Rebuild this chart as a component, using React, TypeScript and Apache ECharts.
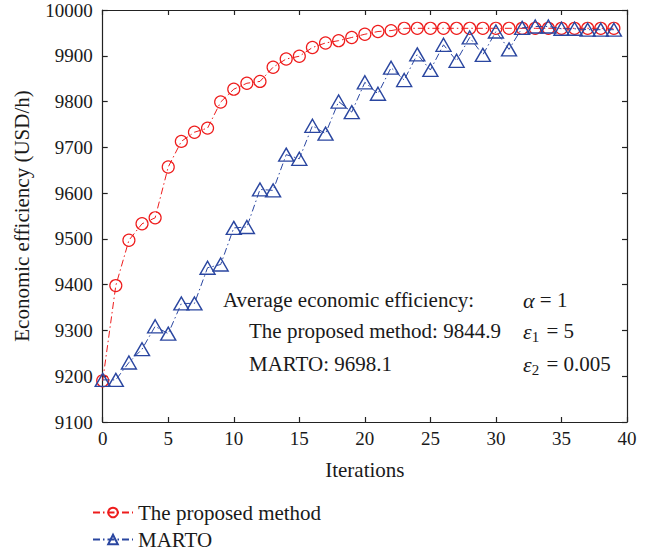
import React, { useEffect, useRef } from "react";
import * as echarts from "echarts";

const iterations: number[] = Array.from({ length: 40 }, (_, i) => i);
const proposed: number[] = [
  9190, 9398, 9497, 9533, 9546, 9657, 9713, 9733, 9742, 9799,
  9827, 9840, 9844, 9875, 9893, 9899, 9918, 9928, 9933, 9940,
  9947, 9953, 9955, 9960, 9960, 9960, 9960, 9960, 9960, 9960,
  9960, 9960, 9960, 9960, 9960, 9960, 9960, 9960, 9960, 9960,
];
const marto: number[] = [
  9192, 9192, 9230, 9259, 9309, 9293, 9359, 9359, 9437, 9444,
  9524, 9526, 9608, 9606, 9684, 9675, 9747, 9730, 9800, 9777,
  9842, 9817, 9874, 9847, 9903, 9869, 9924, 9889, 9940, 9902,
  9953, 9914, 9961, 9964, 9964, 9959, 9959, 9957, 9957, 9957,
];
const seriesNames = ["The proposed method", "MARTO"];
const annotations = [
  "Average economic efficiency:",
  "The proposed method: 9844.9",
  "MARTO: 9698.1",
];

const FONT = "'Liberation Serif', 'DejaVu Serif', serif";
const RED = "#ee1c1c";
const BLUE = "#2a46a0";
const DASH = [7, 3, 1.5, 3];
const TXT = "#1a1a1a";

export default function App() {
  const ref = useRef<HTMLDivElement>(null);
  useEffect(() => {
    if (!ref.current) return;
    const chart = echarts.init(ref.current, undefined, { renderer: "svg" });
    const axisCommon = {
      type: "value" as const,
      axisLine: { show: true, onZero: false, lineStyle: { color: "#222", width: 1.2 } },
      axisTick: { show: true, inside: true, length: 5, lineStyle: { color: "#222", width: 1.2 } },
      splitLine: { show: false },
    };
    const tickStyle = { fontFamily: FONT, fontSize: 19, color: TXT };
    const nameStyle = { fontFamily: FONT, fontSize: 21, color: TXT };
    const greekRich = {
      i: { fontStyle: "italic", fontFamily: FONT, fontSize: 22, lineHeight: 26 },
      s: { fontFamily: FONT, fontSize: 15, verticalAlign: "bottom", lineHeight: 14, padding: [11, 2, 0, 0] },
    };
    chart.setOption({
      animation: false,
      backgroundColor: "#ffffff",
      grid: { left: 102.7, right: 20, top: 10, bottom: 130, containLabel: false },
      xAxis: [
        {
          ...axisCommon,
          min: 0,
          max: 40,
          interval: 5,
          position: "bottom",
          axisLabel: { ...tickStyle, margin: 7 },
          name: "Iterations",
          nameLocation: "middle",
          nameGap: 37,
          nameTextStyle: { ...nameStyle },
        },
        {
          ...axisCommon,
          min: 0,
          max: 40,
          interval: 5,
          position: "top",
          axisLabel: { show: false },
        },
      ],
      yAxis: [
        {
          ...axisCommon,
          min: 9100,
          max: 10000,
          interval: 100,
          position: "left",
          axisLabel: { ...tickStyle, margin: 10, formatter: (v: number) => String(v) },
          name: "Economic efficiency (USD/h)",
          nameLocation: "middle",
          nameGap: 70,
          nameTextStyle: { ...nameStyle },
        },
        {
          ...axisCommon,
          min: 9100,
          max: 10000,
          interval: 100,
          position: "right",
          axisLabel: { show: false },
        },
      ],
      legend: {
        orient: "vertical",
        left: 92,
        top: 502,
        padding: 0,
        itemWidth: 40,
        itemHeight: 12,
        itemGap: 6,
        textStyle: { fontFamily: FONT, fontSize: 21, color: TXT, lineHeight: 21 },
        data: seriesNames,
      },
      series: [
        {
          name: seriesNames[0],
          type: "line",
          data: iterations.map((x, i) => [x, proposed[i]]),
          symbol: "circle",
          symbolSize: 12,
          showAllSymbol: true,
          lineStyle: { color: RED, width: 1, type: DASH },
          itemStyle: { color: "rgba(255,255,255,0)", borderColor: RED, borderWidth: 1.2 },
          z: 2,
        },
        {
          name: seriesNames[1],
          type: "line",
          data: iterations.map((x, i) => [x, marto[i]]),
          symbol: "triangle",
          symbolSize: [15, 13],
          showAllSymbol: true,
          lineStyle: { color: BLUE, width: 1, type: DASH },
          itemStyle: { color: "rgba(255,255,255,0)", borderColor: BLUE, borderWidth: 1.4 },
          z: 3,
        },
      ],
      graphic: [
        {
          type: "text",
          x: 223,
          y: 300,
          style: { text: annotations[0], font: `21px ${FONT}`, fill: TXT, verticalAlign: "middle" },
        },
        {
          type: "text",
          x: 249,
          y: 331,
          style: { text: annotations[1], font: `21px ${FONT}`, fill: TXT, verticalAlign: "middle" },
        },
        {
          type: "text",
          x: 249,
          y: 364,
          style: { text: annotations[2], font: `21px ${FONT}`, fill: TXT, verticalAlign: "middle" },
        },
        {
          type: "text",
          x: 523,
          y: 300,
          style: {
            text: "{i|α} = 1",
            font: `21px ${FONT}`,
            fill: TXT,
            verticalAlign: "middle",
            rich: { i: { fontStyle: "italic", fontFamily: FONT, fontSize: 22 } },
          },
        },
        {
          type: "text",
          x: 523,
          y: 331,
          style: {
            text: "{i|ε}{s|1} = 5",
            font: `21px ${FONT}`,
            fill: TXT,
            verticalAlign: "middle",
            rich: greekRich,
          },
        },
        {
          type: "text",
          x: 523,
          y: 364,
          style: {
            text: "{i|ε}{s|2} = 0.005",
            font: `21px ${FONT}`,
            fill: TXT,
            verticalAlign: "middle",
            rich: greekRich,
          },
        },
      ],
    });
    return () => chart.dispose();
  }, []);
  return (
    <div
      ref={ref}
      style={{ position: "fixed", left: 0, top: 0, width: 647, height: 552, background: "#fff" }}
    />
  );
}
